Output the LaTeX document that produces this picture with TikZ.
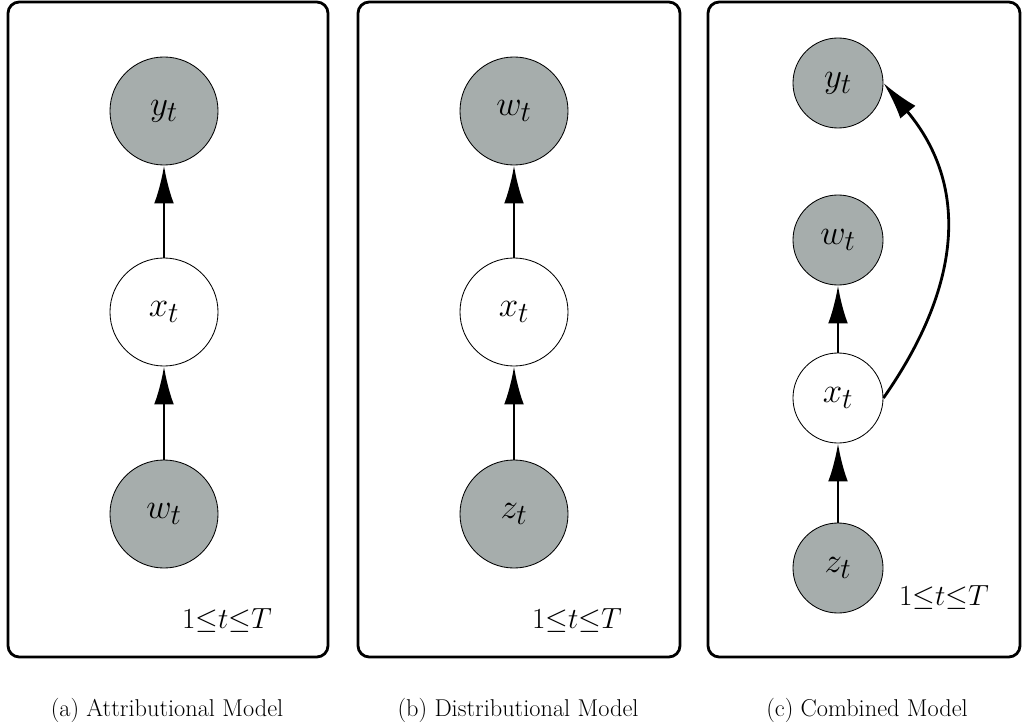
\documentclass[tikz,border=0pt]{standalone}
\usetikzlibrary{arrows.meta}
\definecolor{obsgray}{RGB}{166,173,172}
\tikzset{
  obs/.style={circle,draw,line width=0.6pt,fill=obsgray,minimum size=2.7cm,inner sep=0pt,font=\fontsize{29}{34}\selectfont},
  latent/.style={obs,fill=white},
  small/.style={minimum size=2.25cm},
  plate/.style={draw,line width=2pt,rounded corners=8pt},
  edge/.style={-{Latex[length=27pt,width=14pt]},line width=2pt},
  platelabel/.style={font=\fontsize{21.5}{25}\selectfont},
  caption/.style={font=\fontsize{17.3}{20}\selectfont}
}
\begin{document}
\begin{tikzpicture}[x=0.025cm,y=-0.025cm]
\useasboundingbox (0,0) rectangle (1024,728);
% (a) attributional
\draw[plate] (8,2) rectangle (328,657);
\node[obs] (ya) at (164,111) {$y_t$};
\node[latent] (xa) at (164,312) {$x_t$};
\node[obs] (wa) at (164,514) {$w_t$};
\draw[edge] (wa) -- (xa);
\draw[edge] (xa) -- (ya);
\node[platelabel] (ta) at (227,621) {$1{\leq}t{\leq}T$};
\node[caption] (capa) at (167,710) {(a) Attributional Model};
% (b) distributional
\draw[plate] (358,2) rectangle (680,657);
\node[obs] (wb) at (514,111) {$w_t$};
\node[latent] (xb) at (514,312) {$x_t$};
\node[obs] (zb) at (514,514) {$z_t$};
\draw[edge] (zb) -- (xb);
\draw[edge] (xb) -- (wb);
\node[platelabel] (tb) at (577,621) {$1{\leq}t{\leq}T$};
\node[caption] (capb) at (518,710) {(b) Distributional Model};
% (c) combined
\draw[plate] (708,2) rectangle (1020,657);
\node[obs,small] (yc) at (838,83) {$y_t$};
\node[obs,small] (wc) at (838,240) {$w_t$};
\node[latent,small] (xc) at (838,398) {$x_t$};
\node[obs,small] (zc) at (838,568) {$z_t$};
\draw[edge] (zc) -- (xc);
\draw[edge] (xc) -- (wc);
\draw[edge] (xc.east) to[out=55,in=-50,looseness=1.1] (yc.east);
\node[platelabel] (tc) at (944,598) {$1{\leq}t{\leq}T$};
\node[caption] (capc) at (867,710) {(c) Combined Model};
\end{tikzpicture}
\end{document}
